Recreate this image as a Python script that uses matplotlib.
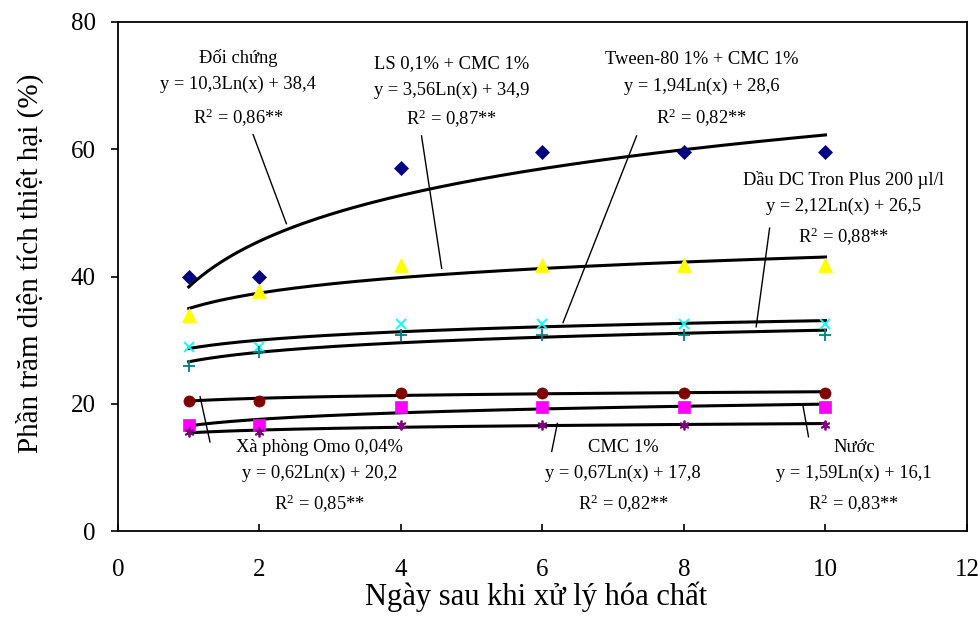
import numpy as np
import matplotlib
matplotlib.use('Agg')
import matplotlib.pyplot as plt

plt.rcParams['font.family'] = ['Liberation Serif', 'DejaVu Serif']
plt.rcParams['mathtext.fontset'] = 'custom'
plt.rcParams['mathtext.rm'] = 'Liberation Serif'
plt.rcParams['mathtext.it'] = 'Liberation Serif'

# số liệu
days = [1, 2, 4, 6, 8, 10]
doi_chung = [40.0, 40.0, 57.0, 59.6, 59.6, 59.6]
ls_cmc = [33.9, 37.7, 41.8, 41.8, 41.8, 41.8]
tween_cmc = [28.9, 28.9, 32.5, 32.5, 32.5, 32.5]
dau_dc = [26.0, 28.2, 30.8, 30.8, 30.8, 30.8]
omo = [20.5, 20.5, 21.7, 21.7, 21.7, 21.7]
nuoc = [16.7, 16.7, 19.5, 19.5, 19.5, 19.5]
cmc = [15.5, 15.5, 16.7, 16.7, 16.7, 16.7]

xticks = [0, 2, 4, 6, 8, 10, 12]
yticks = [0, 20, 40, 60, 80]

# nhãn phương trình (3 dòng mỗi nhãn)
lbl_doi_chung = ["Đối chứng", "y = 10,3Ln(x) + 38,4", r"R$^2$ = 0,86**"]
lbl_ls = ["LS 0,1% + CMC 1%", "y = 3,56Ln(x) + 34,9", r"R$^2$ = 0,87**"]
lbl_tween = ["Tween-80 1% + CMC 1%", "y = 1,94Ln(x) + 28,6", r"R$^2$ = 0,82**"]
lbl_dau = ["Dầu DC Tron Plus 200 µl/l", "y = 2,12Ln(x) + 26,5", r"R$^2$ = 0,88**"]
lbl_omo = ["Xà phòng Omo 0,04%", "y = 0,62Ln(x) + 20,2", r"R$^2$ = 0,85**"]
lbl_cmc = ["CMC 1%", "y = 0,67Ln(x) + 17,8", r"R$^2$ = 0,82**"]
lbl_nuoc = ["Nước", "y = 1,59Ln(x) + 16,1", r"R$^2$ = 0,83**"]

fig = plt.figure(figsize=(9.79, 6.21), dpi=100)
ax = fig.add_axes([118 / 979, 1 - 531 / 621, (967 - 118) / 979, (531 - 22) / 621])

series = [
    (doi_chung, 'D', '#000080', 7),
    (ls_cmc, '^', '#FFFF00', 10),
    (tween_cmc, 'x', '#00FFFF', 7),
    (dau_dc, '+', '#008080', 8),
    (omo, 'o', '#800000', 8),
    (nuoc, 's', '#FF00FF', 8),
    (cmc, (6, 2, 0), '#800080', 7),
]

x_fit = np.linspace(1, 10, 200)
for vals, mk, col, ms in series:
    # đường xu hướng logarit như Excel
    b, a = np.polyfit(np.log(days), vals, 1)
    ax.plot(x_fit, a + b * np.log(x_fit), color='black', lw=2.2, zorder=2)
for vals, mk, col, ms in series:
    ax.plot(days, vals, linestyle='none', marker=mk, color=col, markersize=ms,
            markeredgewidth=1.3 if mk in ('x', '+', (6, 2, 0)) else 0.5,
            markeredgecolor=col, zorder=3)

ax.set_xlim(0, 12)
ax.set_ylim(0, 80)
ax.set_xticks(xticks)
ax.set_yticks(yticks)
ax.tick_params(axis='x', direction='in', length=5, width=1.2, pad=20, labelsize=18)
ax.tick_params(axis='y', direction='out', length=5, width=1.2, pad=11, labelsize=18)
for sp in ax.spines.values():
    sp.set_linewidth(1.3)

fig.text(536 / 979, 1 - 597 / 621, "Ngày sau khi xử lý hóa chất",
         ha='center', va='center', fontsize=22)
fig.text(30 / 979, 1 - 263 / 621, "Phần trăm diện tích thiệt hại (%)",
         ha='center', va='center', rotation=90, fontsize=21)


def put_label(lines, x, ys):
    for txt, y in zip(lines, ys):
        ax.text(x, y, txt, ha='center', va='center', fontsize=13.3, zorder=4)


put_label(lbl_doi_chung, 1.70, [74.4, 70.2, 65.0])
put_label(lbl_ls, 4.72, [73.5, 69.3, 64.7])
put_label(lbl_tween, 8.25, [74.1, 69.9, 64.9])
put_label(lbl_dau, 10.25, [55.2, 51.0, 46.3])
put_label(lbl_omo, 2.85, [13.1, 9.1, 4.2])
put_label(lbl_cmc, 7.14, [13.1, 9.1, 4.2])
put_label(lbl_nuoc, 10.4, [13.1, 9.1, 4.2])

# đường chỉ dẫn
leaders = [
    ((1.91, 62.3), (2.38, 48.3)),
    ((4.29, 62.1), (4.575, 41.3)),
    ((7.33, 62.1), (6.29, 32.75)),
    ((9.21, 47.6), (9.02, 32.1)),
    ((1.16, 21.1), (1.30, 14.0)),
    ((6.21, 16.9), (6.13, 12.5)),
    ((9.68, 19.8), (9.76, 14.8)),
]
for p0, p1 in leaders:
    ax.plot([p0[0], p1[0]], [p0[1], p1[1]], color='black', lw=1.0, zorder=2)

fig.savefig('out.png', dpi=100)
